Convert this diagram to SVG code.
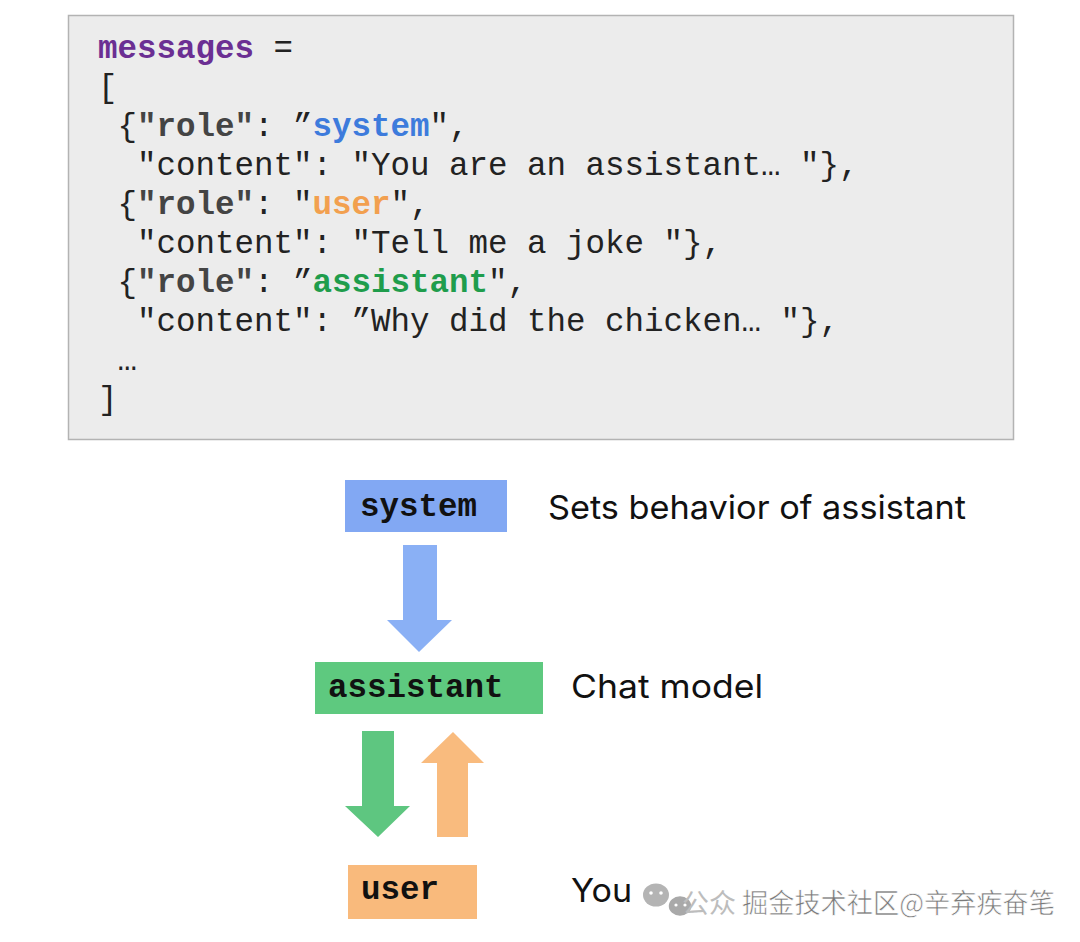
<svg xmlns="http://www.w3.org/2000/svg" width="1080" height="942" viewBox="0 0 1080 942">
<style>
.code{font-family:"Liberation Mono","Courier New",monospace;font-size:32.5px;fill:#222}
.b{font-weight:bold}
.key{font-weight:bold;fill:#444}
.lbl{font-family:"Liberation Mono","Courier New",monospace;font-size:32.5px;font-weight:bold;fill:#111}
.desc{font-family:Inter,"Noto Sans",sans-serif;font-size:33px;fill:#111}
.wm{font-family:"Noto Sans CJK SC",sans-serif;font-size:27px}
</style>
<rect width="1080" height="942" fill="#ffffff"/>
<g id="code">
<rect x="68.5" y="15.5" width="945" height="424" fill="#ececec" stroke="#b3b3b3" stroke-width="1.5"/>
<text class="code" x="98" y="58"><tspan class="b" fill="#6b2f93">messages</tspan> =</text>
<text class="code" x="98" y="97">[</text>
<text class="code" x="117.5" y="136">{<tspan class="key">"role"</tspan>: ”<tspan class="b" fill="#3d7bdc">system</tspan>",</text>
<text class="code" x="137" y="175">"content": "You are an assistant… "},</text>
<text class="code" x="117.5" y="214">{<tspan class="key">"role"</tspan>: "<tspan class="b" fill="#f2a04f">user</tspan>",</text>
<text class="code" x="137" y="253">"content": "Tell me a joke "},</text>
<text class="code" x="117.5" y="292">{<tspan class="key">"role"</tspan>: ”<tspan class="b" fill="#1f9d4c">assistant</tspan>",</text>
<text class="code" x="137" y="331">"content": ”Why did the chicken… "},</text>
<text class="code" x="117.5" y="370">…</text>
<text class="code" x="98" y="409">]</text>
</g>
<g id="connectors">
<polygon id="arrow-system-assistant" points="403,545 437,545 437,620 452,620 419,652 387,620 403,620" fill="#8ab0f5"/>
<polygon id="arrow-assistant-user" points="362,731 394,731 394,806 410,806 378,837 345,806 362,806" fill="#5ec680"/>
<polygon id="arrow-user-assistant" points="437,837 468,837 468,763 484,763 453,732 421,763 437,763" fill="#f9bb7e"/>
</g>
<g id="node-system">
<rect x="345" y="480" width="162" height="52" fill="#82a8f3"/>
<text class="lbl" x="360" y="516">system</text>
<text class="desc" x="548" y="519" textLength="418" lengthAdjust="spacingAndGlyphs">Sets behavior of assistant</text>
</g>
<g id="node-assistant">
<rect x="315" y="662" width="228" height="52" fill="#5ec97f"/>
<text class="lbl" x="328" y="697">assistant</text>
<text class="desc" x="571" y="698" textLength="192" lengthAdjust="spacingAndGlyphs">Chat model</text>
</g>
<g id="node-user">
<rect x="348" y="865" width="129" height="54" fill="#f9ba7c"/>
<text class="lbl" x="361" y="899">user</text>
<text class="desc" x="571" y="902" textLength="61" lengthAdjust="spacingAndGlyphs">You</text>
</g>
<g id="watermark">
<ellipse cx="656" cy="895" rx="13" ry="11.5" fill="#b4b4b4"/>
<ellipse cx="680" cy="906" rx="12" ry="10.5" fill="#a9a9a9" stroke="#ffffff" stroke-width="1.5"/>
<circle cx="651" cy="893" r="1.8" fill="#fff"/>
<circle cx="661" cy="893" r="1.8" fill="#fff"/>
<circle cx="676" cy="905" r="1.6" fill="#fff"/>
<circle cx="685" cy="905" r="1.6" fill="#fff"/>
<text class="wm" x="682" y="913" fill="#bdbdbd">公众</text>
<text class="wm" x="742" y="913" fill="#7a7a7a" stroke="#ffffff" stroke-width="0.6" textLength="313" lengthAdjust="spacingAndGlyphs">掘金技术社区@辛弃疾奋笔</text>
</g>
</svg>
